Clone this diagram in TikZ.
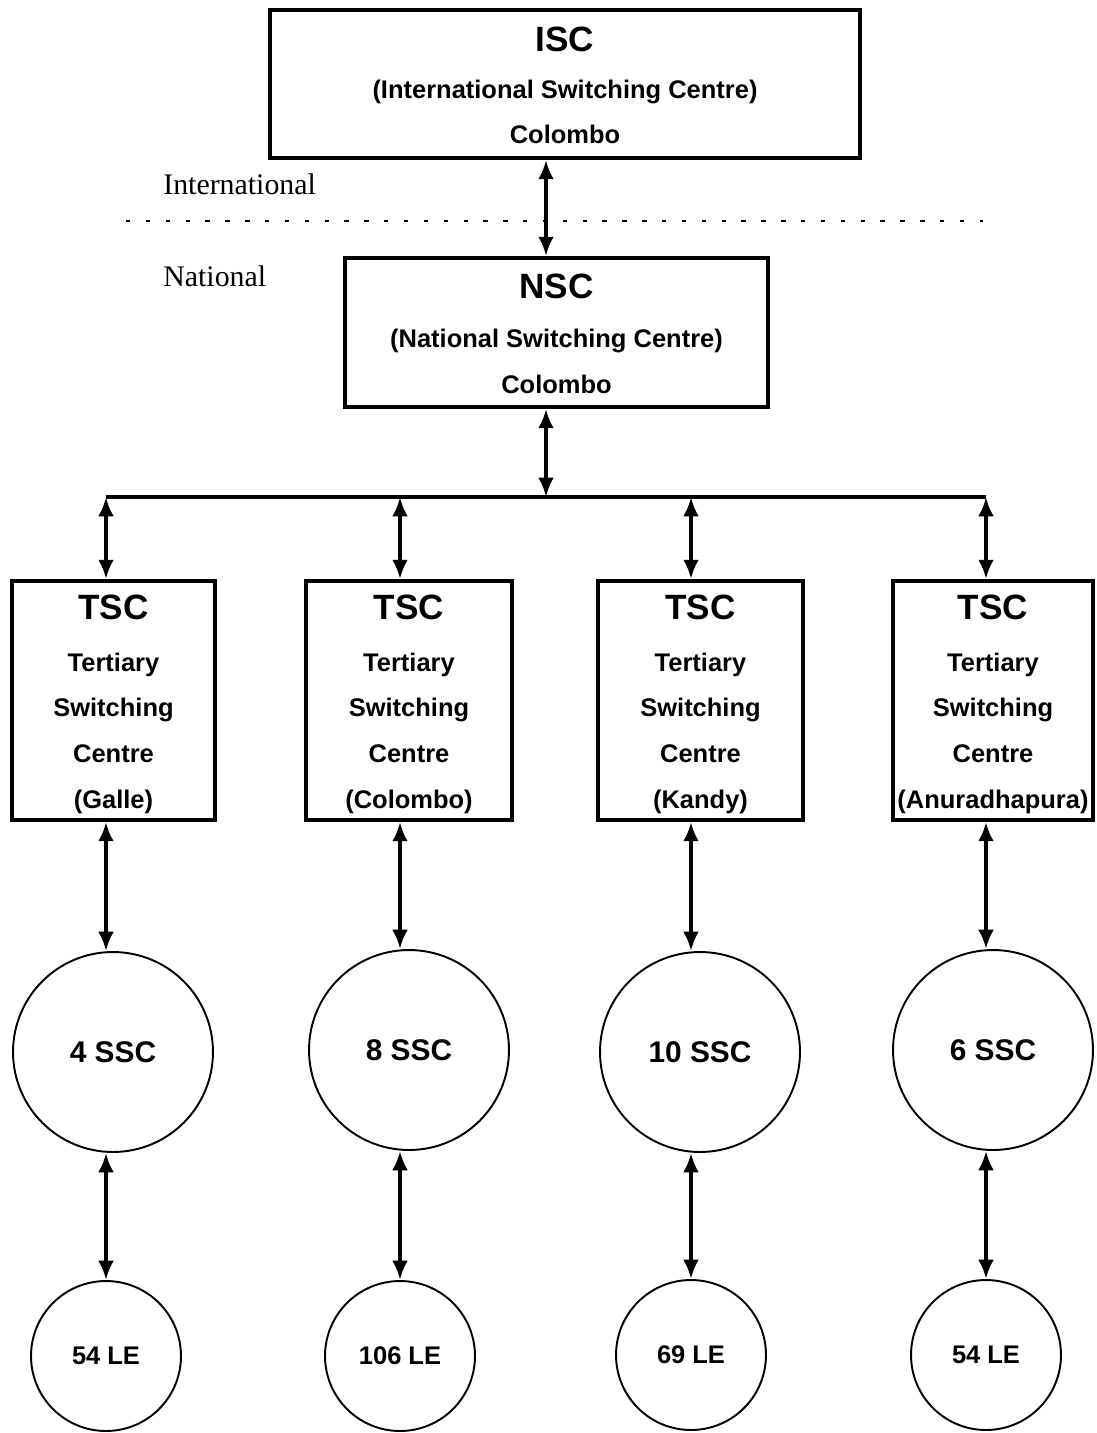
\documentclass[tikz,border=0pt]{standalone}
\usepackage{fontspec}
\setmainfont{Liberation Sans}
\newfontfamily\romanfont{Liberation Serif}
\usetikzlibrary{arrows.meta}

\tikzset{
  centre/.style={draw, line width=2.2pt, inner sep=0pt,
    font=\bfseries\fontsize{14.5}{26}\selectfont},
  ssc/.style={draw, circle, line width=1.1pt, inner sep=0pt, minimum size=4cm,
    font=\bfseries\fontsize{17}{20}\selectfont},
  le/.style={draw, circle, line width=1.1pt, inner sep=0pt, minimum size=3cm,
    font=\bfseries\fontsize{14.5}{17}\selectfont},
  link/.style={{Latex[length=11pt,width=9pt]}-{Latex[length=11pt,width=9pt]}, line width=2.6pt},
  bus/.style={line width=2.2pt},
  region/.style={font=\romanfont\fontsize{17}{20}\selectfont, inner sep=0pt},
}
\newcommand{\ctitle}[1]{{\fontsize{20}{24}\selectfont #1}}
\newcommand{\centretext}[1]{\raisebox{-2.5pt}[\height][\depth]{\begin{tabular}{@{}c@{}}#1\end{tabular}}}

\begin{document}
\begin{tikzpicture}[x=0.02cm, y=-0.02cm]
 \useasboundingbox (0,0) rectangle (1097,1433);
 % international / national split
 \node[region, anchor=base west] (intl) at (163,194) {International};
 \node[region, anchor=base west] (natl) at (163,286) {National};
 \draw[line width=1.5pt, dash pattern=on 2.5pt off 8.8pt] (126,221) -- (983,221);
 % switching centres
 \node[centre, minimum width=11.8cm, minimum height=2.96cm] (isc) at (565,84)
   {\centretext{\ctitle{ISC}\\[0.6pt] (International Switching Centre)\\ Colombo}};
 \node[centre, minimum width=8.46cm, minimum height=2.98cm] (nsc) at (556.5,332.5)
   {\centretext{\ctitle{NSC}\\[1.6pt] (National Switching Centre)\\ Colombo}};
 \node[centre, minimum width=4.06cm, minimum height=4.78cm] (tscG) at (113.5,700.5)
   {\centretext{\ctitle{TSC}\\[3.2pt] Tertiary\\ Switching\\ Centre\\ (Galle)}};
 \node[centre, minimum width=4.12cm, minimum height=4.78cm] (tscC) at (409,700.5)
   {\centretext{\ctitle{TSC}\\[3.2pt] Tertiary\\ Switching\\ Centre\\ (Colombo)}};
 \node[centre, minimum width=4.1cm, minimum height=4.78cm] (tscK) at (700.5,700.5)
   {\centretext{\ctitle{TSC}\\[3.2pt] Tertiary\\ Switching\\ Centre\\ (Kandy)}};
 \node[centre, minimum width=4.0cm, minimum height=4.78cm] (tscA) at (993,700.5)
   {\centretext{\ctitle{TSC}\\[3.2pt] Tertiary\\ Switching\\ Centre\\ (Anuradhapura)}};
 % secondary centres and local exchanges
 \node[ssc] (sscG) at (113,1052) {4 SSC};
 \node[ssc] (sscC) at (409,1050) {8 SSC};
 \node[ssc] (sscK) at (700,1052) {10 SSC};
 \node[ssc] (sscA) at (993,1050) {6 SSC};
 \node[le] (leG) at (106,1356) {54 LE};
 \node[le] (leC) at (400,1356) {106 LE};
 \node[le] (leK) at (691,1355) {69 LE};
 \node[le] (leA) at (986,1355) {54 LE};
 % links
 \coordinate (hub) at (546,497);
 \draw[link] (isc.south -| hub) -- (nsc.north -| hub);
 \draw[link] (nsc.south -| hub) -- (hub);
 \draw[bus] (hub -| leG) -- (hub -| leA);
 \draw[link] (hub -| leG) -- (tscG.north -| leG);
 \draw[link] (hub -| leC) -- (tscC.north -| leC);
 \draw[link] (hub -| leK) -- (tscK.north -| leK);
 \draw[link] (hub -| leA) -- (tscA.north -| leA);
 \draw[link] (tscG.south -| leG) -- (sscG.north -| leG);
 \draw[link] (tscC.south -| leC) -- (sscC.north -| leC);
 \draw[link] (tscK.south -| leK) -- (sscK.north -| leK);
 \draw[link] (tscA.south -| leA) -- (sscA.north -| leA);
 \draw[link] (sscG.south -| leG) -- (leG.north);
 \draw[link] (sscC.south -| leC) -- (leC.north);
 \draw[link] (sscK.south -| leK) -- (leK.north);
 \draw[link] (sscA.south -| leA) -- (leA.north);
\end{tikzpicture}
\end{document}
